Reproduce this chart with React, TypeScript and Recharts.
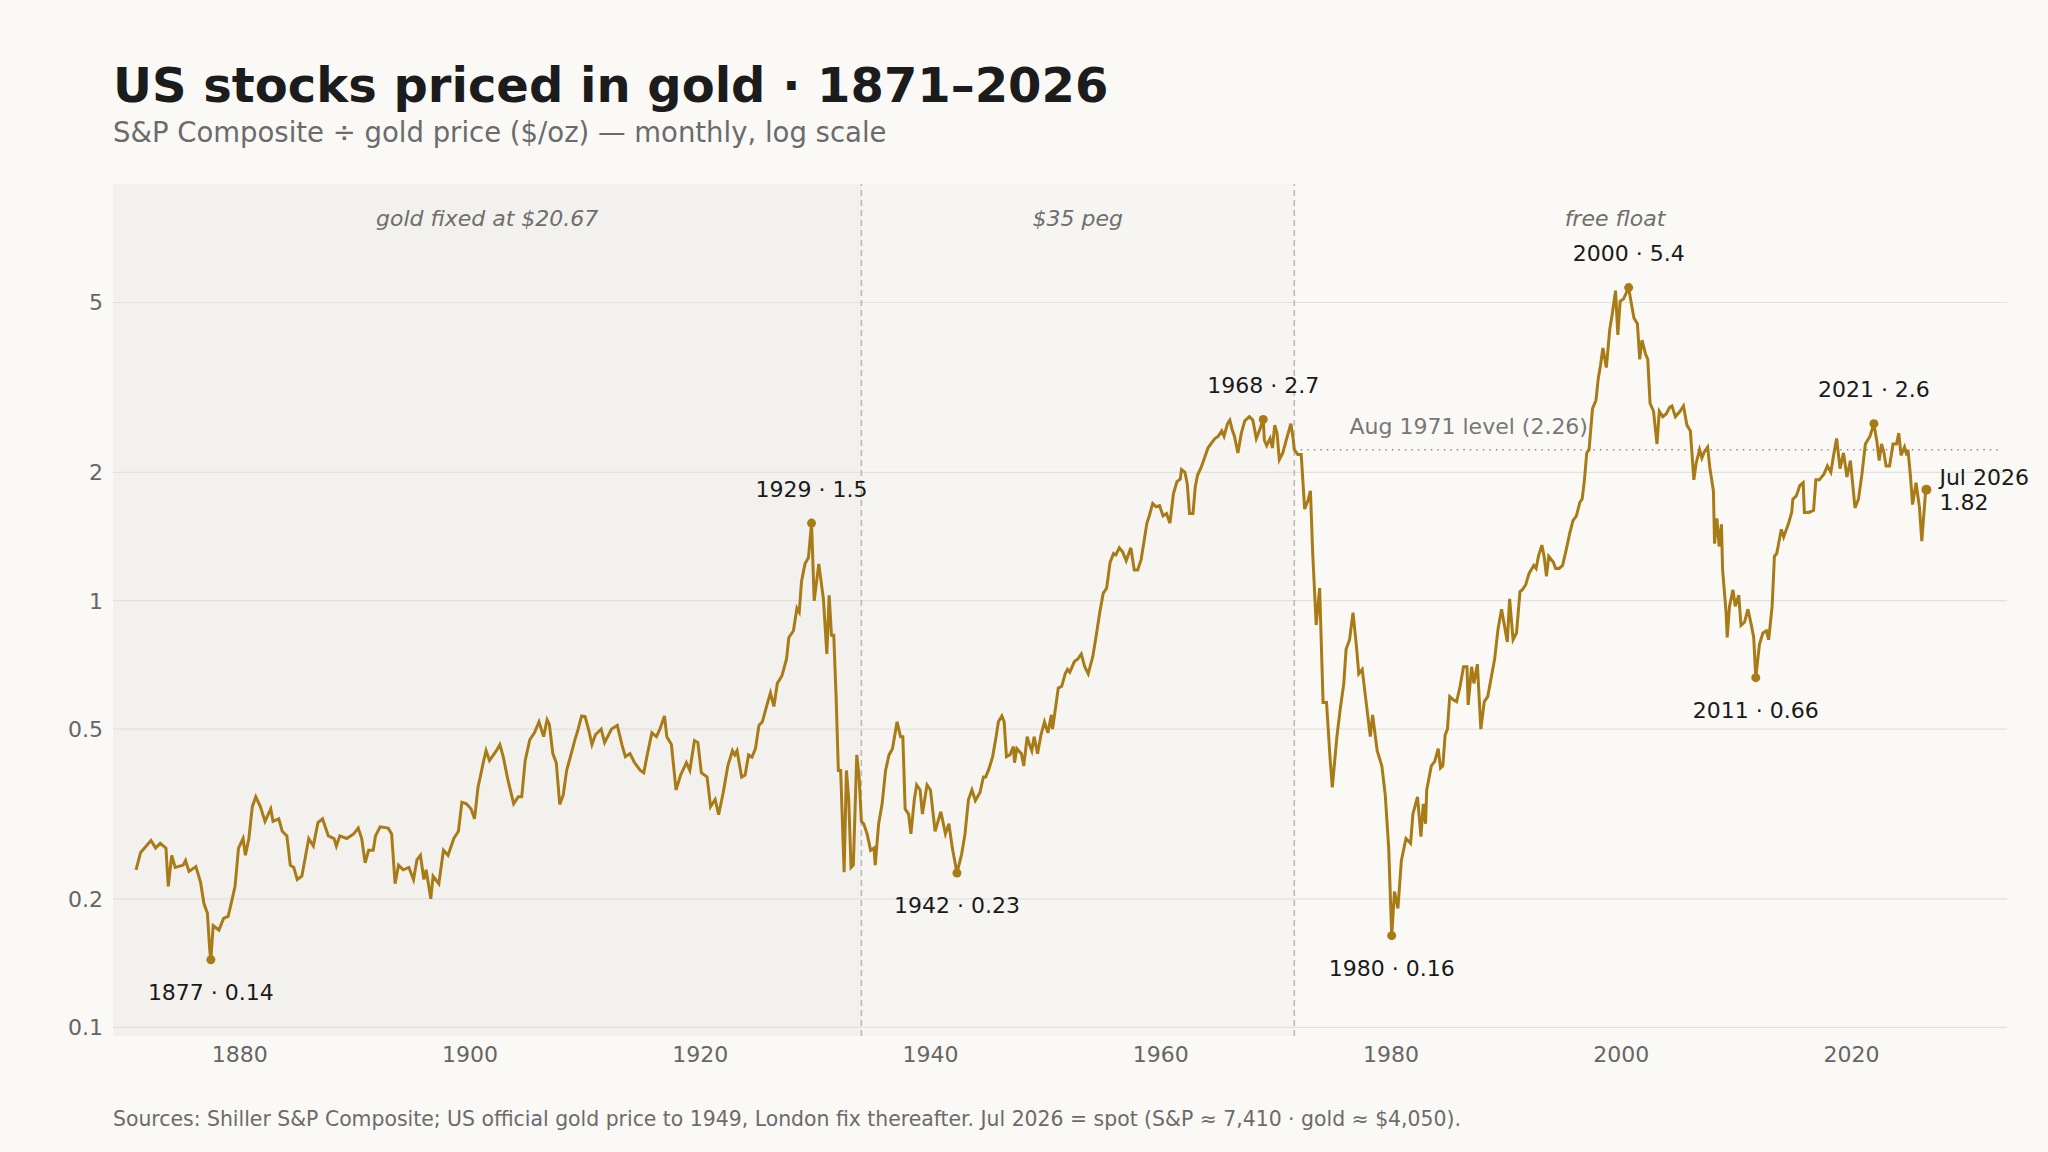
import React from 'react';
import {
  LineChart, Line, XAxis, YAxis,
  ReferenceArea, ReferenceLine, ReferenceDot,
} from 'recharts';

// S&P Composite / gold ($/oz), [year, ratio]
const GOLD_FIXED: Array<[number, number]> = [
  [1871.0, 0.234], [1871.4, 0.257], [1872.3, 0.274], [1872.7, 0.263], [1873.1, 0.27], [1873.6, 0.263],
  [1873.8, 0.214], [1874.1, 0.253], [1874.4, 0.237], [1875.1, 0.24], [1875.3, 0.246], [1875.6, 0.232],
  [1876.2, 0.238], [1876.6, 0.219], [1876.9, 0.195], [1877.2, 0.185], [1877.4, 0.152], [1877.5, 0.144],
  [1877.7, 0.173], [1878.2, 0.169], [1878.6, 0.18], [1879.0, 0.182], [1879.3, 0.197], [1879.6, 0.214],
  [1879.9, 0.263], [1880.3, 0.277], [1880.5, 0.253], [1880.8, 0.277], [1881.1, 0.329], [1881.4, 0.347],
  [1881.8, 0.329], [1882.2, 0.304], [1882.7, 0.325], [1882.9, 0.304], [1883.4, 0.308], [1883.7, 0.288],
  [1884.1, 0.281], [1884.4, 0.24], [1884.7, 0.237], [1885.0, 0.222], [1885.4, 0.226], [1885.7, 0.25],
  [1886.0, 0.277], [1886.4, 0.266], [1886.8, 0.302], [1887.2, 0.308], [1887.7, 0.281], [1888.2, 0.277],
  [1888.4, 0.266], [1888.7, 0.281], [1889.3, 0.277], [1889.9, 0.284], [1890.3, 0.293], [1890.6, 0.277],
  [1890.9, 0.243], [1891.2, 0.26], [1891.6, 0.26], [1891.8, 0.281], [1892.2, 0.295], [1892.9, 0.293],
  [1893.2, 0.284], [1893.5, 0.217], [1893.8, 0.24], [1894.2, 0.234], [1894.7, 0.237], [1895.1, 0.222],
  [1895.4, 0.247], [1895.7, 0.253], [1896.0, 0.222], [1896.2, 0.234], [1896.6, 0.2], [1896.8, 0.226],
  [1897.3, 0.217], [1897.7, 0.26], [1898.1, 0.253], [1898.6, 0.277], [1899.0, 0.288], [1899.3, 0.337],
  [1899.7, 0.334], [1900.1, 0.325], [1900.4, 0.308], [1900.7, 0.365], [1901.2, 0.422], [1901.4, 0.445],
  [1901.7, 0.422], [1902.3, 0.445], [1902.6, 0.46], [1902.9, 0.43], [1903.3, 0.38], [1903.8, 0.334],
  [1904.2, 0.347], [1904.5, 0.347], [1904.8, 0.422], [1905.2, 0.472], [1905.6, 0.49], [1906.0, 0.52],
  [1906.4, 0.48], [1906.7, 0.526], [1906.9, 0.513], [1907.2, 0.438], [1907.5, 0.417], [1907.8, 0.333],
  [1908.1, 0.35], [1908.4, 0.4], [1908.8, 0.438], [1909.1, 0.47], [1909.4, 0.5], [1909.7, 0.537],
  [1910.0, 0.535], [1910.3, 0.5], [1910.6, 0.46], [1910.9, 0.485], [1911.4, 0.5], [1911.7, 0.465],
  [1912.3, 0.5], [1912.8, 0.51], [1913.2, 0.46], [1913.5, 0.431], [1913.9, 0.438], [1914.3, 0.417],
  [1914.8, 0.4], [1915.1, 0.395], [1915.4, 0.435], [1915.8, 0.49], [1916.2, 0.48], [1916.5, 0.5],
  [1916.9, 0.537], [1917.1, 0.48], [1917.5, 0.46], [1917.9, 0.36], [1918.3, 0.39], [1918.8, 0.417],
  [1919.1, 0.4], [1919.5, 0.47], [1919.8, 0.465], [1920.1, 0.395], [1920.6, 0.386], [1920.9, 0.329],
  [1921.3, 0.342], [1921.6, 0.315], [1922.0, 0.355], [1922.4, 0.41], [1922.8, 0.445], [1923.0, 0.435],
  [1923.2, 0.445], [1923.6, 0.386], [1923.9, 0.39], [1924.2, 0.435], [1924.5, 0.43], [1924.8, 0.45],
  [1925.1, 0.51], [1925.4, 0.52], [1925.8, 0.57], [1926.1, 0.608], [1926.4, 0.565], [1926.7, 0.64],
  [1927.1, 0.667], [1927.5, 0.73], [1927.7, 0.82], [1928.1, 0.85], [1928.4, 0.96], [1928.6, 0.94],
  [1928.8, 1.11], [1929.1, 1.22], [1929.4, 1.26], [1929.67, 1.52], [1929.9, 1.0], [1930.3, 1.22],
  [1930.7, 1.01], [1931.0, 0.75], [1931.2, 1.03], [1931.4, 0.83], [1931.6, 0.83], [1931.8, 0.6],
  [1932.0, 0.4], [1932.2, 0.4], [1932.5, 0.231], [1932.7, 0.4], [1932.9, 0.342], [1933.1, 0.237],
  [1933.3, 0.24], [1933.6, 0.435], [1933.8, 0.386],
];

const PEG_35: Array<[number, number]> = [
  [1934.0, 0.304], [1934.2, 0.3], [1934.5, 0.284], [1934.8, 0.26], [1935.1, 0.263], [1935.2, 0.24],
  [1935.5, 0.3], [1935.8, 0.334], [1936.1, 0.4], [1936.4, 0.435], [1936.7, 0.45], [1937.1, 0.52],
  [1937.4, 0.48], [1937.6, 0.48], [1937.8, 0.325], [1938.1, 0.316], [1938.3, 0.284], [1938.6, 0.342],
  [1938.8, 0.37], [1939.1, 0.36], [1939.3, 0.316], [1939.7, 0.37], [1940.0, 0.36], [1940.4, 0.288],
  [1940.9, 0.32], [1941.3, 0.284], [1941.6, 0.3], [1941.9, 0.263], [1942.3, 0.23], [1942.7, 0.254],
  [1943.0, 0.284], [1943.3, 0.342], [1943.6, 0.36], [1943.9, 0.34], [1944.3, 0.355], [1944.6, 0.386],
  [1944.8, 0.386], [1945.1, 0.405], [1945.4, 0.431], [1945.7, 0.48], [1945.9, 0.52], [1946.2, 0.537],
  [1946.4, 0.52], [1946.6, 0.431], [1946.9, 0.435], [1947.2, 0.455], [1947.3, 0.417], [1947.5, 0.45],
  [1947.9, 0.438], [1948.1, 0.41], [1948.4, 0.48], [1948.6, 0.46], [1948.8, 0.445], [1949.0, 0.48],
  [1949.3, 0.438], [1949.6, 0.485], [1949.9, 0.52], [1950.2, 0.49], [1950.5, 0.54], [1950.6, 0.5],
  [1950.9, 0.57], [1951.1, 0.624], [1951.4, 0.63], [1951.7, 0.674], [1951.9, 0.69], [1952.1, 0.68],
  [1952.5, 0.72], [1952.8, 0.73], [1953.1, 0.75], [1953.4, 0.7], [1953.7, 0.674], [1954.1, 0.74],
  [1954.4, 0.83], [1954.7, 0.937], [1955.0, 1.04], [1955.3, 1.07], [1955.6, 1.23], [1955.9, 1.29],
  [1956.1, 1.28], [1956.4, 1.33], [1956.7, 1.3], [1957.0, 1.24], [1957.4, 1.33], [1957.7, 1.18],
  [1958.0, 1.18], [1958.3, 1.25], [1958.8, 1.52], [1959.0, 1.58], [1959.3, 1.69], [1959.6, 1.66],
  [1959.9, 1.67], [1960.2, 1.58], [1960.5, 1.6], [1960.8, 1.52], [1961.1, 1.78], [1961.4, 1.9],
  [1961.7, 1.93], [1961.8, 2.03], [1962.1, 2.0], [1962.3, 1.88], [1962.5, 1.6], [1962.8, 1.6],
  [1963.0, 1.85], [1963.2, 1.97], [1963.5, 2.05], [1963.8, 2.16], [1964.1, 2.28], [1964.4, 2.34],
  [1964.7, 2.4], [1965.0, 2.43], [1965.3, 2.5], [1965.5, 2.43], [1965.8, 2.6], [1966.0, 2.65],
  [1966.2, 2.52], [1966.4, 2.43], [1966.7, 2.22], [1967.0, 2.47], [1967.3, 2.64], [1967.7, 2.7],
  [1968.0, 2.65], [1968.3, 2.4], [1968.6, 2.52], [1968.9, 2.66], [1969.0, 2.38], [1969.2, 2.31],
  [1969.5, 2.4], [1969.7, 2.28], [1969.9, 2.58], [1970.1, 2.47], [1970.3, 2.14], [1970.6, 2.22],
  [1970.9, 2.38], [1971.3, 2.6], [1971.5, 2.4],
];

const FREE_FLOAT: Array<[number, number]> = [
  [1971.6, 2.26], [1971.9, 2.2], [1972.2, 2.2], [1972.5, 1.64], [1972.8, 1.72], [1973.0, 1.81],
  [1973.2, 1.29], [1973.5, 0.877], [1973.8, 1.07], [1974.1, 0.577], [1974.4, 0.577], [1974.7, 0.43],
  [1974.9, 0.365], [1975.3, 0.48], [1975.6, 0.56], [1975.9, 0.64], [1976.1, 0.77], [1976.4, 0.81],
  [1976.7, 0.937], [1977.0, 0.78], [1977.2, 0.674], [1977.5, 0.69], [1977.8, 0.59], [1978.2, 0.48],
  [1978.4, 0.54], [1978.8, 0.445], [1979.2, 0.41], [1979.5, 0.35], [1979.8, 0.263], [1980.06, 0.164],
  [1980.3, 0.208], [1980.6, 0.19], [1980.9, 0.246], [1981.3, 0.277], [1981.7, 0.27], [1981.9, 0.316],
  [1982.3, 0.347], [1982.6, 0.28], [1982.8, 0.334], [1983.0, 0.3], [1983.1, 0.36], [1983.5, 0.41],
  [1983.8, 0.42], [1984.1, 0.45], [1984.3, 0.405], [1984.5, 0.41], [1984.7, 0.484], [1984.9, 0.5],
  [1985.1, 0.596], [1985.4, 0.586], [1985.7, 0.58], [1986.0, 0.63], [1986.3, 0.7], [1986.6, 0.7],
  [1986.7, 0.57], [1987.0, 0.7], [1987.2, 0.64], [1987.5, 0.71], [1987.8, 0.5], [1988.1, 0.58],
  [1988.4, 0.596], [1988.7, 0.66], [1989.0, 0.73], [1989.3, 0.86], [1989.6, 0.955], [1989.9, 0.86],
  [1990.1, 0.8], [1990.3, 1.01], [1990.6, 0.81], [1990.9, 0.84], [1991.2, 1.05], [1991.4, 1.06],
  [1991.7, 1.09], [1992.0, 1.16], [1992.4, 1.21], [1992.6, 1.19], [1992.8, 1.27], [1993.1, 1.35],
  [1993.3, 1.27], [1993.5, 1.14], [1993.7, 1.27], [1994.1, 1.23], [1994.3, 1.19], [1994.6, 1.19],
  [1994.9, 1.21], [1995.2, 1.31], [1995.5, 1.43], [1995.8, 1.54], [1996.1, 1.58], [1996.4, 1.7],
  [1996.6, 1.73], [1996.8, 1.92], [1997.0, 2.22], [1997.2, 2.26], [1997.5, 2.82], [1997.8, 2.95],
  [1998.0, 3.32], [1998.2, 3.57], [1998.4, 3.91], [1998.7, 3.52], [1999.0, 4.33], [1999.2, 4.67],
  [1999.5, 5.33], [1999.7, 4.2], [1999.9, 5.03], [2000.2, 5.1], [2000.64, 5.42], [2000.8, 5.1],
  [2001.1, 4.6], [2001.4, 4.46], [2001.6, 3.68], [2001.8, 4.08], [2002.1, 3.79], [2002.3, 3.68],
  [2002.5, 2.9], [2002.8, 2.78], [2003.1, 2.33], [2003.3, 2.78], [2003.6, 2.7], [2003.9, 2.74],
  [2004.2, 2.84], [2004.4, 2.86], [2004.7, 2.7], [2005.1, 2.78], [2005.4, 2.86], [2005.7, 2.58],
  [2006.0, 2.5], [2006.1, 2.29], [2006.3, 1.92], [2006.5, 2.1], [2006.8, 2.26], [2007.0, 2.16],
  [2007.2, 2.23], [2007.5, 2.29], [2007.7, 2.04], [2008.0, 1.81], [2008.1, 1.36], [2008.3, 1.56],
  [2008.5, 1.34], [2008.7, 1.51], [2008.8, 1.18], [2009.1, 0.94], [2009.2, 0.82], [2009.4, 0.97],
  [2009.7, 1.06], [2009.9, 0.97], [2010.2, 1.03], [2010.4, 0.875], [2010.7, 0.89], [2011.0, 0.955],
  [2011.3, 0.875], [2011.5, 0.82], [2011.68, 0.66], [2012.0, 0.79], [2012.3, 0.84], [2012.6, 0.85],
  [2012.8, 0.81], [2013.1, 0.97], [2013.3, 1.27], [2013.5, 1.29], [2013.9, 1.47], [2014.1, 1.41],
  [2014.5, 1.51], [2014.8, 1.61], [2014.9, 1.73], [2015.2, 1.76], [2015.5, 1.86], [2015.8, 1.89],
  [2015.9, 1.61], [2016.3, 1.61], [2016.7, 1.63], [2016.9, 1.92], [2017.2, 1.92], [2017.6, 1.98],
  [2017.9, 2.07], [2018.2, 2.0], [2018.4, 2.16], [2018.7, 2.4], [2019.0, 2.04], [2019.3, 2.22],
  [2019.6, 1.95], [2019.9, 2.13], [2020.3, 1.65], [2020.6, 1.73], [2020.9, 1.98], [2021.2, 2.33],
  [2021.6, 2.43], [2021.94, 2.6], [2022.2, 2.36], [2022.4, 2.13], [2022.6, 2.33], [2022.8, 2.23],
  [2023.0, 2.07], [2023.3, 2.07], [2023.6, 2.33], [2023.9, 2.33], [2024.1, 2.47], [2024.3, 2.19],
  [2024.6, 2.29], [2024.8, 2.19], [2024.9, 2.26], [2025.1, 1.98], [2025.3, 1.68], [2025.6, 1.89],
  [2025.9, 1.65], [2026.1, 1.38], [2026.4, 1.76], [2026.5, 1.82],
];

const PEAKS = [
  { t: 1929.67, v: 1.52, text: '1929 · 1.5' },
  { t: 1968.9, v: 2.66, text: '1968 · 2.7' },
  { t: 2000.64, v: 5.42, text: '2000 · 5.4' },
  { t: 2021.94, v: 2.6, text: '2021 · 2.6' },
];

const TROUGHS = [
  { t: 1877.5, v: 0.144, text: '1877 · 0.14' },
  { t: 1942.3, v: 0.23, text: '1942 · 0.23' },
  { t: 1980.06, v: 0.164, text: '1980 · 0.16' },
  { t: 2011.68, v: 0.66, text: '2011 · 0.66' },
];

const LATEST = { t: 2026.5, v: 1.82, lines: ['Jul 2026', '1.82'] };
const AUG_1971 = 2.26;
const REGIME_BREAKS = [1934, 1971.6];
const X_TICKS = [1880, 1900, 1920, 1940, 1960, 1980, 2000, 2020];
const Y_TICKS = [0.1, 0.2, 0.5, 1, 2, 5];

const data = [...GOLD_FIXED, ...PEG_35, ...FREE_FLOAT].map(([t, v]) => ({ t, v }));

const FONT = '"DejaVu Sans", Verdana, sans-serif';
const GOLD = '#a97b17';
const BG = '#faf9f6';

function LatestLabel({ viewBox, lines }: any) {
  const cx = viewBox.x + viewBox.width / 2;
  const cy = viewBox.y + viewBox.height / 2;
  return (
    <text fontFamily={FONT} fontSize={22} fill="#1a1a1a">
      <tspan x={cx + 13} y={cy - 5}>{lines[0]}</tspan>
      <tspan x={cx + 13} y={cy + 20}>{lines[1]}</tspan>
    </text>
  );
}

function LevelLabel({ viewBox }: any) {
  return (
    <text x={viewBox.x} y={viewBox.y - 16} fontFamily={FONT} fontSize={22} fill="#777">
      Aug 1971 level (2.26)
    </text>
  );
}

const eraLabel = (value: string) => ({
  value, position: 'insideTop' as const, offset: 26,
  fill: '#6e6e6e', fontSize: 22, fontStyle: 'italic', fontFamily: FONT,
});

export default function App() {
  return (
    <div style={{ position: 'relative', width: 2048, height: 1152, background: BG, fontFamily: FONT, overflow: 'hidden' }}>
      <style>{`body { margin: 0; }`}</style>
      <div style={{ position: 'absolute', left: 113, top: 61, fontSize: 48, lineHeight: '48px', fontWeight: 700, color: '#1c1c1c', whiteSpace: 'nowrap' }}>
        US stocks priced in gold · 1871–2026
      </div>
      <div style={{ position: 'absolute', left: 113, top: 119, fontSize: 27.5, lineHeight: '27.5px', color: '#6b6b6b', whiteSpace: 'nowrap' }}>
        S&amp;P Composite ÷ gold price ($/oz) — monthly, log scale
      </div>

      <div style={{ position: 'absolute', left: 0, top: 0 }}>
        <LineChart width={2048} height={1152} data={data} margin={{ top: 184, right: 41, bottom: 86, left: 33 }}>
          <ReferenceArea x1={1869} x2={REGIME_BREAKS[0]} fill="#000" fillOpacity={0.032} stroke="none" label={eraLabel('gold fixed at $20.67')} />
          <ReferenceArea x1={REGIME_BREAKS[0]} x2={REGIME_BREAKS[1]} fill="#000" fillOpacity={0.016} stroke="none" label={eraLabel('$35 peg')} />
          <ReferenceArea x1={REGIME_BREAKS[1]} x2={2027.3} fill="#000" fillOpacity={0} stroke="none" label={eraLabel('free float')} />
          {Y_TICKS.map(y => (
            <ReferenceLine key={y} y={y} stroke="#e3e1dc" strokeWidth={1.2} />
          ))}
          <XAxis
            type="number" dataKey="t" domain={[1869, 2033.5]} ticks={X_TICKS} allowDataOverflow
            axisLine={false} tickLine={false} tickMargin={4} height={30}
            tick={{ fill: '#666', fontSize: 22, fontFamily: FONT }}
          />
          <YAxis
            type="number" scale="log" domain={[0.0954, 9.48]} ticks={Y_TICKS} allowDataOverflow
            axisLine={false} tickLine={false} tickMargin={4} width={80}
            tickFormatter={(v: number) => String(v)}
            tick={{ fill: '#666', fontSize: 22, fontFamily: FONT }}
          />
          {REGIME_BREAKS.map(x => (
            <ReferenceLine key={x} x={x} stroke="#bdbab4" strokeWidth={1.6} strokeDasharray="6 4" />
          ))}
          <ReferenceLine
            segment={[{ x: REGIME_BREAKS[1], y: AUG_1971 }, { x: 2033, y: AUG_1971 }]}
            stroke="#8a8a8a" strokeWidth={1.5} strokeDasharray="1.5 5"
          />
          <ReferenceDot x={1976.4} y={AUG_1971} r={0} stroke="none" fill="none" label={<LevelLabel />} />
          <Line type="linear" dataKey="v" stroke={GOLD} strokeWidth={3} dot={false} isAnimationActive={false} />
          {PEAKS.map(p => (
            <ReferenceDot key={p.text} x={p.t} y={p.v} r={4.5} fill={GOLD} stroke="none"
              label={{ value: p.text, position: 'top', offset: 22, fill: '#1a1a1a', fontSize: 22, fontFamily: FONT }} />
          ))}
          {TROUGHS.map(p => (
            <ReferenceDot key={p.text} x={p.t} y={p.v} r={4.5} fill={GOLD} stroke="none"
              label={{ value: p.text, position: 'bottom', offset: 20, fill: '#1a1a1a', fontSize: 22, fontFamily: FONT }} />
          ))}
          <ReferenceDot x={LATEST.t} y={LATEST.v} r={5} fill={GOLD} stroke="none" label={<LatestLabel lines={LATEST.lines} />} />
        </LineChart>
      </div>

      <div style={{ position: 'absolute', left: 113, top: 1109, fontSize: 20.4, lineHeight: '20.4px', color: '#6b6b6b', whiteSpace: 'nowrap' }}>
        Sources: Shiller S&amp;P Composite; US official gold price to 1949, London fix thereafter. Jul 2026 = spot (S&amp;P ≈ 7,410 · gold ≈ $4,050).
      </div>
    </div>
  );
}
